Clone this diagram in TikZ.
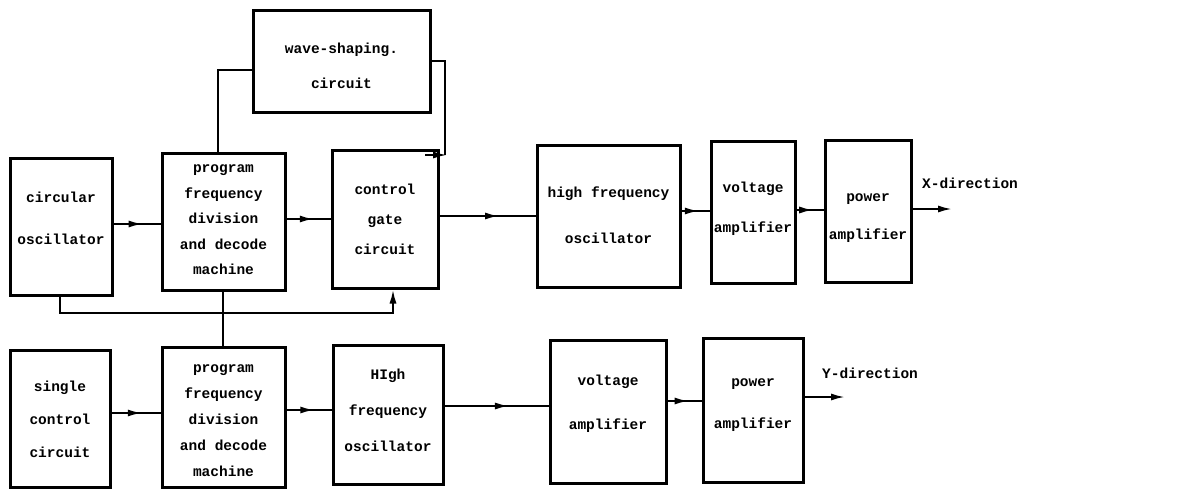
\documentclass[tikz,border=0pt]{standalone}
\usepackage{fontspec}
\setmonofont{Liberation Mono}
\usetikzlibrary{arrows.meta,decorations.markings}
\newcommand\bfnt[1]{\ttfamily\bfseries\fontsize{14.5}{#1}\selectfont}
\tikzset{
  blk/.style={draw=black, line width=3pt, inner sep=0pt},
  txt/.style={align=center, inner sep=0pt},
  wire/.style={line width=2pt},
  midarrow/.style={wire, postaction=decorate, decoration={markings,
     mark=at position 0.62 with {\arrow{Latex[length=14pt,width=7pt]}}}},
  endarrow/.style={wire, -{Latex[length=14pt,width=7pt]}},
  lbl/.style={font=\bfnt{17}, anchor=base west, inner sep=0pt}
}
\begin{document}
\begin{tikzpicture}[x=1pt,y=-1pt]
\useasboundingbox (0,0) rectangle (1187,488);
% top row boxes
\node[blk, minimum width=102pt, minimum height=137pt] (circ) at (61,226.5) {};
\node[blk, minimum width=123pt, minimum height=137pt] (prog1) at (223.5,221.5) {};
\node[blk, minimum width=106pt, minimum height=138pt] (ctrl) at (385,219) {};
\node[blk, minimum width=177pt, minimum height=102pt] (ws) at (341.5,61) {};
\node[blk, minimum width=143pt, minimum height=142pt] (hf) at (608.5,216) {};
\node[blk, minimum width=84pt, minimum height=142pt] (va1) at (753,212) {};
\node[blk, minimum width=86pt, minimum height=142pt] (pa1) at (868,211) {};
% bottom row boxes
\node[blk, minimum width=100pt, minimum height=137pt] (sc) at (60,418.5) {};
\node[blk, minimum width=123pt, minimum height=140pt] (prog2) at (223.5,417) {};
\node[blk, minimum width=110pt, minimum height=139pt] (hi) at (388,414.5) {};
\node[blk, minimum width=116pt, minimum height=143pt] (va2) at (608,411.5) {};
\node[blk, minimum width=100pt, minimum height=144pt] (pa2) at (753,410) {};
% box texts
\node[txt, font=\bfnt{42}] (circ-t) at (61,218) {circular\\oscillator};
\node[txt, font=\bfnt{25.5}] (prog1-t) at (223.5,220) {program\\frequency\\division\\and decode\\machine};
\node[txt, font=\bfnt{30}] (ctrl-t) at (385,219) {control\\gate\\circuit};
\node[txt, font=\bfnt{35}] (ws-t) at (341.5,66) {wave-shaping.\\circuit};
\node[txt, font=\bfnt{46}] (hf-t) at (608.5,215) {high frequency\\oscillator};
\node[txt, font=\bfnt{40}] (va1-t) at (753,209) {voltage\\amplifier};
\node[txt, font=\bfnt{38}] (pa1-t) at (868,218) {power\\amplifier};
\node[txt, font=\bfnt{33}] (sc-t) at (60,419) {single\\control\\circuit};
\node[txt, font=\bfnt{26}] (prog2-t) at (223.5,421) {program\\frequency\\division\\and decode\\machine};
\node[txt, font=\bfnt{36}] (hi-t) at (388,410) {HIgh\\frequency\\oscillator};
\node[txt, font=\bfnt{44}] (va2-t) at (608,404) {voltage\\amplifier};
\node[txt, font=\bfnt{42}] (pa2-t) at (753,405) {power\\amplifier};
% labels
\node[lbl] (xdir) at (922,188) {X-direction};
\node[lbl] (ydir) at (822,378) {Y-direction};
\coordinate (xout) at (952,209);
\coordinate (yout) at (845,397);
% top row connectors
\draw[midarrow] (circ.east |- 0,224) -- (prog1.west |- 0,224);
\draw[midarrow] (prog1.east |- 0,219) -- (ctrl.west |- 0,219);
\draw[midarrow] (ctrl.east |- 0,216) -- (hf.west |- 0,216);
\draw[midarrow] (hf.east |- 0,211) -- (va1.west |- 0,211);
\draw[midarrow] (va1.east |- 0,210) -- (pa1.west |- 0,210);
\draw[endarrow] (pa1.east |- xout) -- (xout);
% bottom row connectors
\draw[midarrow] (sc.east |- 0,413) -- (prog2.west |- 0,413);
\draw[midarrow] (prog2.east |- 0,410) -- (hi.west |- 0,410);
\draw[midarrow] (hi.east |- 0,406) -- (va2.west |- 0,406);
\draw[midarrow] (va2.east |- 0,401) -- (pa2.west |- 0,401);
\draw[endarrow] (pa2.east |- yout) -- (yout);
% wave-shaping loop
\draw[wire] (prog1.north -| 218,0) -- (218,70) -- (ws.west |- 0,70);
\coordinate (wsr) at (445,155);
\draw[wire] (ws.east |- 0,61) -- (445,61) -- (wsr);
\draw[endarrow] (425,155) -- (447,155);
% feedback from circular oscillator to control gate
\draw[endarrow] (circ.south -| 60,0) -- (60,313) -- (393,313) -- (ctrl.south -| 393,0);
% link between the two program blocks
\draw[wire] (prog1.south -| 223,0) -- (prog2.north -| 223,0);
\end{tikzpicture}
\end{document}
